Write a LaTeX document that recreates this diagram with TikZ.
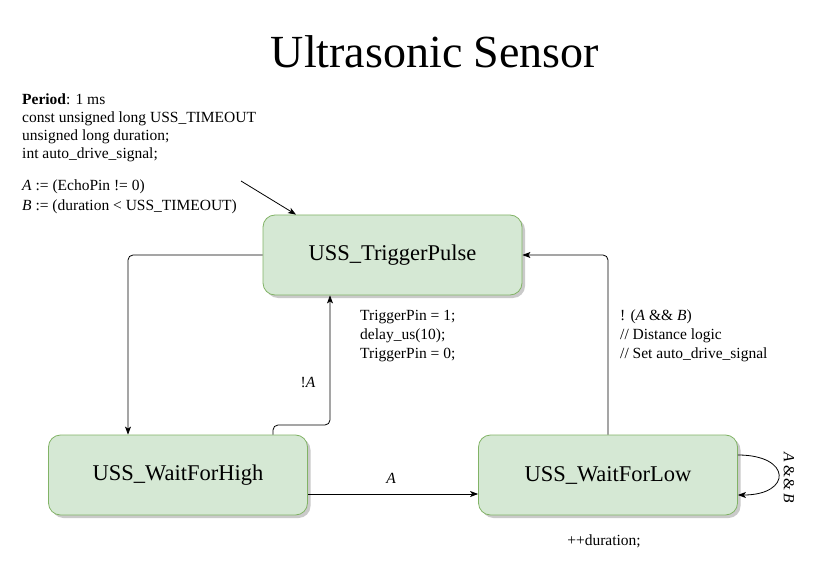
\documentclass[tikz,border=0pt]{standalone}
\usepackage{fontspec}
\setmainfont{Liberation Serif}
\usetikzlibrary{arrows.meta,shadows}
\definecolor{boxfill}{HTML}{D5E8D4}
\definecolor{boxdraw}{HTML}{82B366}
\tikzset{
  state/.style={draw=boxdraw, fill=boxfill, rounded corners=12pt, minimum width=259pt, minimum height=80pt,
    inner sep=0pt, font=\fontsize{22.5}{26}\selectfont, line width=0.8pt,
    drop shadow={shadow xshift=3pt, shadow yshift=-3pt, fill=black!35, opacity=0.6}},
  edge/.style={draw=black, line width=0.8pt, rounded corners=5pt, -{Stealth[length=8pt,width=6pt,inset=2pt]}},
  lbl/.style={font=\fontsize{15.5}{19}\selectfont, align=left, inner sep=0pt},
}
\begin{document}
\begin{tikzpicture}[x=1pt,y=-1pt]
\useasboundingbox (0,0) rectangle (824,569);
\node[font=\fontsize{46}{50}\selectfont, inner sep=0pt] (title) at (435,52) {Ultrasonic Sensor};

\node[state] (tp) at (392.5,255) {USS\_TriggerPulse};
\node[state] (wh) at (178,475) {USS\_WaitForHigh};
\node[state] (wl) at (608,475) {USS\_WaitForLow};

\node[lbl, font=\fontsize{15.5}{18}\selectfont, anchor=north west] (note1) at (22,94) {\textbf{Period}: 1 ms\\const unsigned long USS\_TIMEOUT\\unsigned long duration;\\int auto\_drive\_signal;};
\node[lbl, font=\fontsize{15.5}{20}\selectfont, anchor=north west] (note2) at (22,180) {\textit{A} := (EchoPin != 0)\\\textit{B} := (duration < USS\_TIMEOUT)};
\coordinate (nstart) at (241,181);
\draw[edge] (nstart) -- (tp.north west -| 296,0);

% TriggerPulse -> WaitForHigh
\draw[edge] (tp.west) -| (wh.north -| 128,0);
% WaitForHigh -> TriggerPulse (!A)
\draw[edge] (wh.north -| 273,0) |- (300,425) -| (tp.south -| 330,0);
\node[lbl, font=\fontsize{15.5}{18}\selectfont\itshape] (nota) at (308,382) {\upshape!\itshape A};
% WaitForHigh -> WaitForLow (A)
\draw[edge] (wh.east |- 0,494) -- (wl.west |- 0,494);
\node[lbl, font=\fontsize{15.5}{18}\selectfont\itshape] (la) at (391,478) {A};
% WaitForLow -> TriggerPulse
\draw[edge] (wl.north) |- (tp.east);
% self loop
\draw[edge, rounded corners=0pt] (wl.east |- 0,455) .. controls (792,455) and (792,495) .. (wl.east |- 0,495);
\node[lbl, rotate=-90] (lab) at (789,478) {\textit{A} \&\& \textit{B}};

\node[lbl, anchor=north west] (tpact) at (360,310) {TriggerPin = 1;\\delay\_us(10);\\TriggerPin = 0;};
\node[lbl, anchor=north west] (wlcond) at (620,310) {! (\textit{A} \&\& \textit{B})\\// Distance logic\\// Set auto\_drive\_signal};
\node[lbl] (wlact) at (604,541) {++duration;};
\end{tikzpicture}
\end{document}
